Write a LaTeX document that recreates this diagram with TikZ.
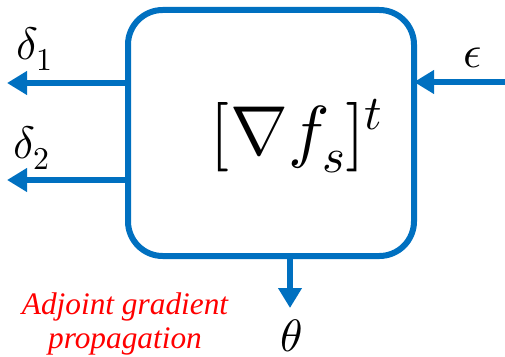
\documentclass[tikz,border=0pt]{standalone}
\usepackage{amsmath,amssymb}
\usepackage{fontspec}
\usepackage{unicode-math}
\setmainfont{Liberation Serif}
\setmathfont{Latin Modern Math}
\usetikzlibrary{calc,arrows.meta}
\definecolor{flowblue}{RGB}{0,112,192}
\tikzset{
  blockbox/.style={draw=flowblue,line width=4.5pt,rounded corners=26pt,
    minimum width=214.5pt,minimum height=184.5pt,outer sep=0pt},
  flow/.style={flowblue,line width=4.5pt,-{Triangle[length=15pt,width=17pt]}},
  lbl/.style={font=\fontsize{34}{40}\selectfont,inner sep=0pt}
}
\begin{document}
\begin{tikzpicture}[x=0.75pt,y=-0.75pt]
        \useasboundingbox (0,0) rectangle (505,356);

        % Блок
        \node[blockbox] (fs) at (271,133) {};
        \node[font=\fontsize{52}{60}\selectfont,inner sep=0pt] (jac) at (297,136) {$[\nabla f_s]^t$};

        % Кінці стрілок
        \coordinate (d1) at (7,83);
        \coordinate (d2) at (7,180);
        \coordinate (eps) at (505,82);
        \coordinate (th) at (290,308);

        \draw[flow] (fs.west |- d1) -- (d1);
        \draw[flow] (fs.west |- d2) -- (d2);
        \draw[flow] (eps) -- (fs.east |- eps);
        \draw[flow] (fs.south -| th) -- (th);

        % Підписи
        \node[lbl] (ld1) at (35,49) {$\delta_1$};
        \node[lbl] (ld2) at (32,148) {$\delta_2$};
        \node[lbl] (leps) at (473,58) {$\epsilon$};
        \node[lbl] (lth) at (291,336) {$\theta$};

        \node[text=red,font=\fontsize{23.5}{25}\selectfont\itshape,align=center] (note) at (125,324) {Adjoint gradient\\propagation};
    \end{tikzpicture}
\end{document}
